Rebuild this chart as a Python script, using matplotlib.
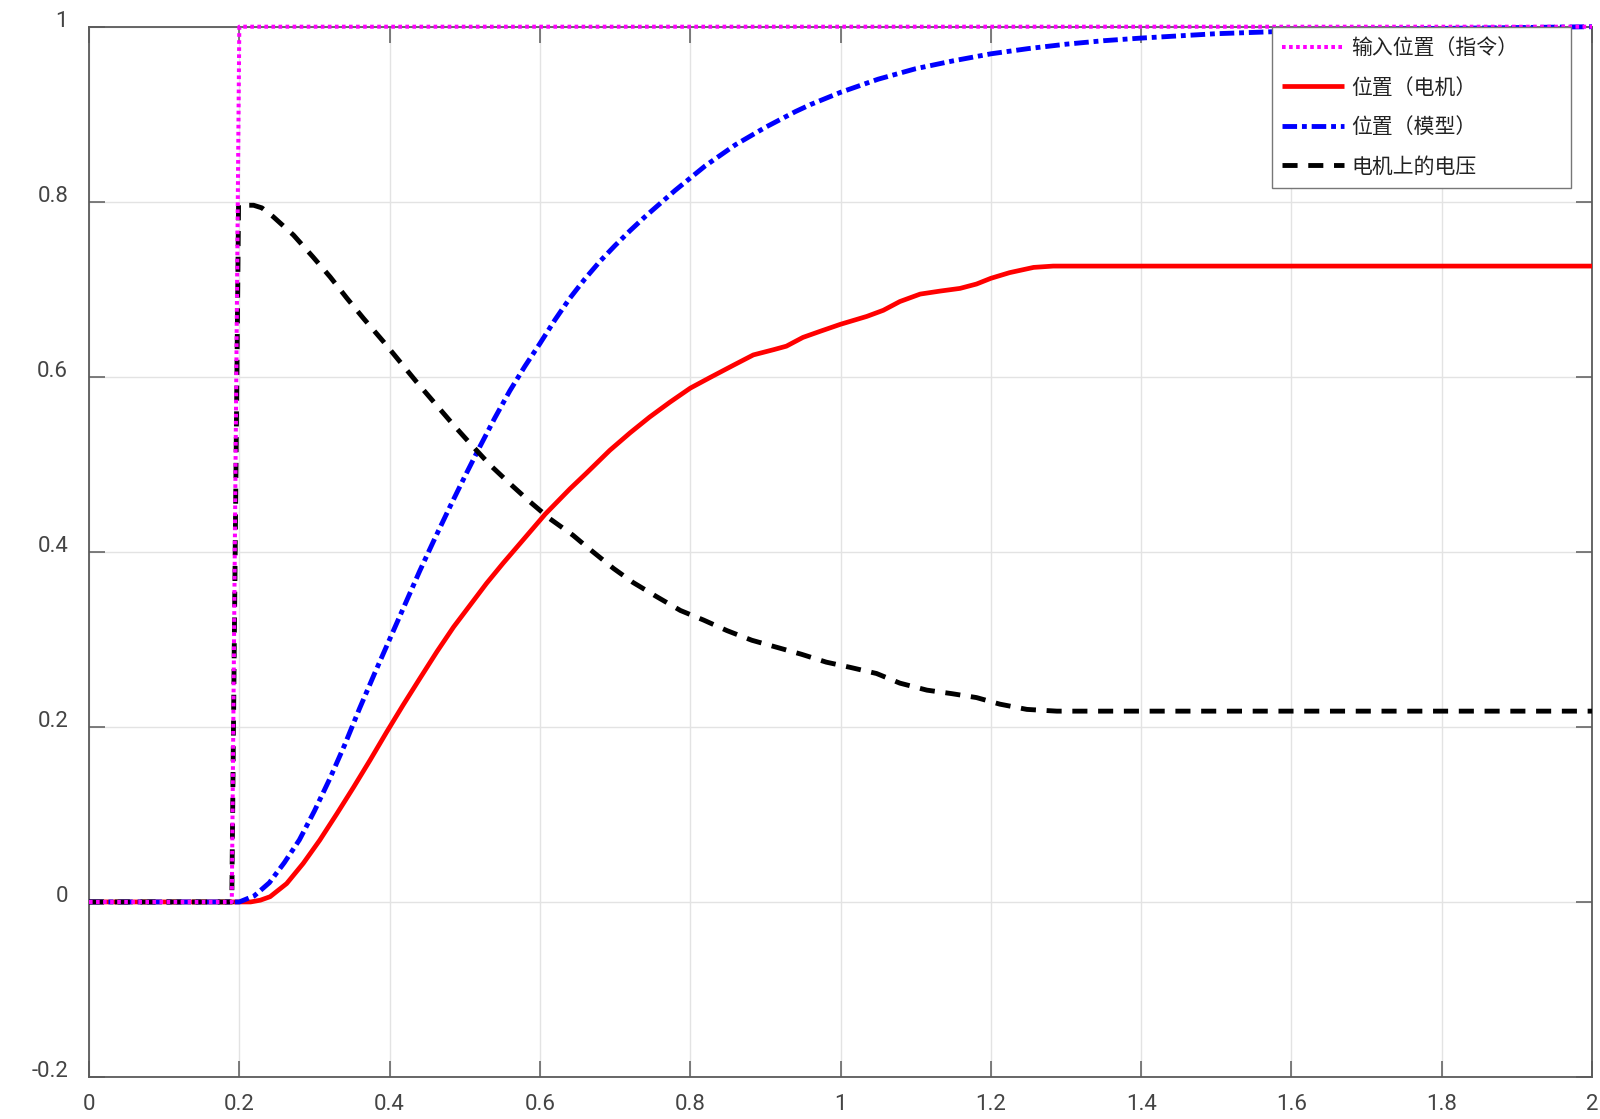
import matplotlib
matplotlib.use("Agg")
import matplotlib.pyplot as plt
from matplotlib.ticker import FixedLocator

plt.rcParams['font.family'] = ['Roboto', 'Noto Sans CJK SC', 'DejaVu Sans']

# ---------------- data ----------------
labels = ['输入位置（指令）', '位置（电机）', '位置（模型）', '电机上的电压']

t_in = [0.0, 0.19, 0.20, 2.0]
y_in = [0.0, 0.0, 1.0, 1.0]

t_motor = [0.0, 0.215, 0.228, 0.241, 0.263, 0.285, 0.307, 0.330, 0.352, 0.374,
           0.396, 0.418, 0.440, 0.463, 0.485, 0.507, 0.529, 0.551, 0.573, 0.607,
           0.640, 0.662, 0.693, 0.720, 0.746, 0.773, 0.800, 0.826, 0.857, 0.884,
           0.911, 0.928, 0.950, 0.973, 1.000, 1.035, 1.057, 1.079, 1.106, 1.133,
           1.159, 1.181, 1.200, 1.225, 1.257, 1.283, 2.0]
y_motor = [0.0, 0.0, 0.002, 0.006, 0.021, 0.044, 0.0705, 0.101, 0.131, 0.162,
           0.194, 0.225, 0.255, 0.286, 0.314, 0.339, 0.364, 0.387, 0.409, 0.443,
           0.472, 0.490, 0.516, 0.536, 0.554, 0.571, 0.587, 0.599, 0.613, 0.625,
           0.631, 0.635, 0.645, 0.652, 0.660, 0.669, 0.676, 0.686, 0.6945, 0.698,
           0.701, 0.706, 0.7125, 0.719, 0.725, 0.7265, 0.7265]

t_model = [0.0, 0.20, 0.22, 0.24, 0.26, 0.28, 0.30, 0.32, 0.34, 0.36, 0.38,
           0.40, 0.42, 0.44, 0.46, 0.48, 0.50, 0.52, 0.54, 0.56, 0.58, 0.60,
           0.62, 0.64, 0.66, 0.68, 0.70, 0.72, 0.74, 0.76, 0.78, 0.80, 0.82,
           0.84, 0.86, 0.88, 0.90, 0.92, 0.94, 0.96, 0.98, 1.00, 1.05, 1.10,
           1.15, 1.20, 1.25, 1.30, 1.35, 1.40, 1.50, 1.60, 1.70, 1.80, 1.90, 2.0]
y_model = [0.0, 0.0, 0.007, 0.022, 0.045, 0.071, 0.104, 0.140, 0.179, 0.221, 0.261,
           0.300, 0.339, 0.378, 0.415, 0.451, 0.486, 0.520, 0.553, 0.584, 0.612, 0.638,
           0.665, 0.690, 0.712, 0.732, 0.750, 0.767, 0.783, 0.798, 0.813, 0.827, 0.841,
           0.853, 0.865, 0.875, 0.885, 0.894, 0.903, 0.911, 0.918, 0.925, 0.940, 0.952,
           0.961, 0.969, 0.975, 0.980, 0.984, 0.987, 0.992, 0.995, 0.997, 0.998, 0.999, 1.0]

t_volt = [0.0, 0.19, 0.199, 0.219, 0.230, 0.245, 0.272, 0.298, 0.321, 0.343,
          0.365, 0.392, 0.414, 0.436, 0.460, 0.485, 0.507, 0.534, 0.560, 0.587,
          0.613, 0.644, 0.662, 0.698, 0.724, 0.755, 0.787, 0.818, 0.849, 0.882,
          0.915, 0.948, 0.981, 1.013, 1.048, 1.079, 1.115, 1.148, 1.181, 1.212,
          1.248, 1.288, 2.0]
y_volt = [0.0, 0.0, 0.796, 0.796, 0.793, 0.783, 0.762, 0.737, 0.714, 0.690,
          0.667, 0.640, 0.617, 0.594, 0.570, 0.545, 0.524, 0.499, 0.478, 0.457,
          0.438, 0.419, 0.406, 0.381, 0.365, 0.349, 0.333, 0.322, 0.310, 0.299,
          0.291, 0.283, 0.274, 0.268, 0.261, 0.250, 0.242, 0.238, 0.2335, 0.226,
          0.220, 0.218, 0.218]

x_ticks = [0, 0.2, 0.4, 0.6, 0.8, 1, 1.2, 1.4, 1.6, 1.8, 2]
x_ticklabels = ['0', '0.2', '0.4', '0.6', '0.8', '1', '1.2', '1.4', '1.6', '1.8', '2']
y_ticks = [-0.2, 0, 0.2, 0.4, 0.6, 0.8, 1]
y_ticklabels = ['-0.2', '0', '0.2', '0.4', '0.6', '0.8', '1']

# ---------------- figure ----------------
fig = plt.figure(figsize=(16, 11.19), dpi=100)
ax = fig.add_axes([89 / 1600, 1 - 1077 / 1119, (1592 - 89) / 1600, (1077 - 26.7) / 1119])

ax.plot(t_motor, y_motor, color='#ff0000', lw=3.4, solid_capstyle='butt',
        solid_joinstyle='round', label=labels[1], zorder=3)
ax.plot(t_model, y_model, color='#0000ff', lw=3.5, dashes=(3.0, 1.0, 1.0, 1.0),
        label=labels[2], zorder=4, clip_on=False)
ax.plot(t_volt, y_volt, color='#000000', lw=3.5, dashes=(3.1, 2.2),
        label=labels[3], zorder=5)
ax.plot(t_in, y_in, color='#ff00ff', lw=2.9, dashes=(0.9, 0.85),
        label=labels[0], zorder=6, clip_on=False)

ax.set_xlim(0, 2)
ax.set_ylim(-0.2, 1)
ax.xaxis.set_major_locator(FixedLocator(x_ticks))
ax.yaxis.set_major_locator(FixedLocator(y_ticks))
ax.set_xticklabels(x_ticklabels)
ax.set_yticklabels(y_ticklabels)

ax.grid(True, color='#e3e3e3', lw=1.0, zorder=0)
ax.set_axisbelow(True)
for s in ax.spines.values():
    s.set_color('#5a5a5a')
    s.set_linewidth(1.3)

ax.tick_params(axis='both', which='major', direction='in', length=11.5, width=1.1,
               color='#5a5a5a', labelcolor='#444444', labelsize=16,
               top=True, right=True)
ax.tick_params(axis='x', pad=12)
ax.tick_params(axis='y', pad=15)
for lab in ax.get_yticklabels():
    lab.set_verticalalignment('baseline')

handles, labs = ax.get_legend_handles_labels()
order = [3, 0, 1, 2]
x0 = (1272 - 89) / 1503
x1 = (1571 - 89) / 1503
leg = ax.legend([handles[i] for i in order], [labs[i] for i in order],
                loc='upper left', bbox_to_anchor=(x0, 0.0, x1 - x0, 1.0),
                mode='expand', borderaxespad=0.0,
                fancybox=False, framealpha=1.0, edgecolor='#777777',
                prop={'family': ['Noto Sans CJK SC', 'DejaVu Sans'], 'size': 15},
                handlelength=2.95, handletextpad=0.35, labelspacing=0.84,
                borderpad=0.5)
leg.get_frame().set_linewidth(1.0)
leg.set_zorder(10)
for txt in leg.get_texts():
    txt.set_color('#222222')

fig.savefig('out.png', dpi=100, facecolor='white')
